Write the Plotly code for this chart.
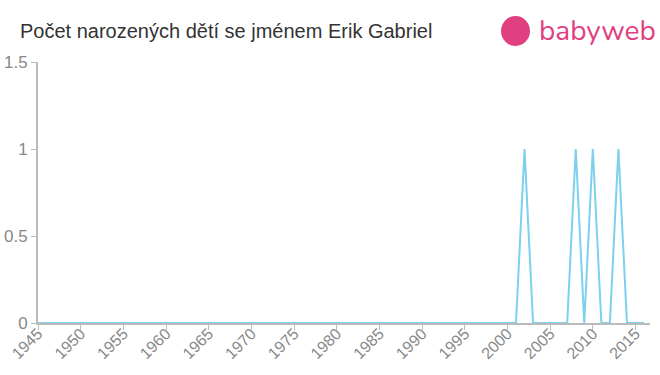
import plotly.graph_objects as go

years = list(range(1945, 2017))
ones = {2002, 2008, 2010, 2013}
counts = [1 if y in ones else 0 for y in years]
tick_vals = list(range(1945, 2016, 5))
tick_text = [str(v) for v in tick_vals]

fig = go.Figure()
fig.add_trace(go.Scatter(x=years, y=counts, mode="lines",
                         line=dict(color="#7dd0ee", width=2), hoverinfo="x+y"))

fig.update_layout(
    width=660, height=375,
    margin=dict(l=38, r=10, t=62, b=52, autoexpand=False),
    paper_bgcolor="white", plot_bgcolor="white",
    showlegend=False,
    font=dict(family="Liberation Sans, Arial, sans-serif", color="#888"),
    title=dict(text="Počet narozených dětí se jménem Erik Gabriel",
               x=20/660, xanchor="left", y=1-31/375, yanchor="middle",
               font=dict(size=20, color="#333")),
    xaxis=dict(range=[1945, 2016.7], tickvals=tick_vals, ticktext=tick_text,
               tickangle=-45, showgrid=False, zeroline=False, automargin=False,
               showline=True, linecolor="#bbb", linewidth=2,
               ticks="outside", tickcolor="#bbb", ticklen=5,
               ticklabelstandoff=-12,
               tickfont=dict(size=16, color="#888")),
    yaxis=dict(range=[0, 1.5], tickvals=[0, 0.5, 1, 1.5], ticktext=["0", "0.5", "1", "1.5"],
               showgrid=False, zeroline=False, automargin=False,
               showline=True, linecolor="#bbb", linewidth=2,
               ticks="outside", tickcolor="#bbb", ticklen=5,
               tickfont=dict(size=17, color="#888")),
)

fig.add_shape(type="circle", xref="paper", yref="paper",
              x0=(501-38)/612, x1=(530-38)/612, y0=(375-46-52)/261, y1=(375-16-52)/261,
              fillcolor="#e0407f", line=dict(width=0))
fig.add_annotation(text="babyweb", xref="paper", yref="paper",
                   x=(537-38)/612, y=(375-31-52)/261, xanchor="left", yanchor="middle",
                   showarrow=False, font=dict(size=28, color="#e0407f",
                                              family="Nunito, Lato, sans-serif"))

fig.write_html("out.html")
